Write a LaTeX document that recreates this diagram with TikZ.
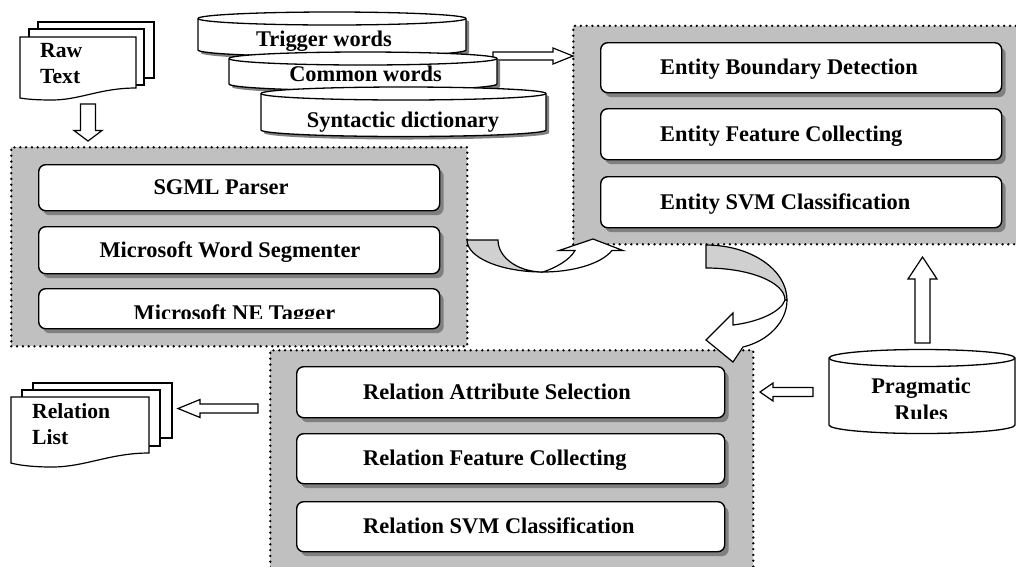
\documentclass[tikz,border=0pt]{standalone}
\usepackage{fontspec}
\setmainfont{Liberation Serif}
\usetikzlibrary{calc,shadows}

\definecolor{panelgray}{RGB}{192,192,192}
\definecolor{shadowgray}{RGB}{128,128,128}
\definecolor{bandgray}{RGB}{208,208,208}

% cylinder outline: [options]{cx}{rx}{top y}{bottom y}{ry}
\newcommand\cylsil[6][]{%
  \path[#1] ({#2-#3},#4) -- ({#2-#3},#5)
    arc[start angle=180,end angle=360,x radius=#3pt,y radius=#6pt]
    -- ({#2+#3},#4)
    arc[start angle=0,end angle=180,x radius=#3pt,y radius=#6pt] -- cycle;}
% front rim of the top face
\newcommand\cyltop[6][]{%
  \path[#1] ({#2-#3},#4)
    arc[start angle=180,end angle=360,x radius=#3pt,y radius=#6pt];}

\begin{document}
\begin{tikzpicture}[x=1pt,y=-1pt,
  lbl/.style={font=\fontsize{22.4}{26}\selectfont\bfseries, inner sep=0pt},
  doclbl/.style={font=\fontsize{21.6}{26}\selectfont\bfseries, inner sep=0pt, anchor=base west},
  panel/.style={anchor=north west, fill=panelgray, draw=black, line width=2.6pt,
    dash pattern=on 0pt off 5.8pt, line cap=round, inner sep=0pt},
  stepbox/.style={anchor=north west, fill=white, draw=black, line width=1.4pt,
    rounded corners=7pt, inner sep=0pt, minimum width=401pt,
    drop shadow={shadow xshift=4pt, shadow yshift=-4.5pt, fill=shadowgray, opacity=1}},
  sheet/.style={fill=white, draw=black, line width=1.2pt, line join=miter},
  cylbody/.style={fill=white, draw=black, line width=1.3pt},
  cylrim/.style={draw=black, line width=1.3pt},
  cylshadow/.style={fill=shadowgray, shift={(3,3)}},
  bandfill/.style={fill=bandgray, draw=black, line width=1.2pt},
  headfill/.style={fill=white, draw=black, line width=1.2pt, line join=miter},
  hollow arrow/.style n args={3}{draw=black, fill=white, line width=1.2pt, line join=miter,
    to path={
      ($(\tikztostart)!#1!90:(\tikztotarget)$)
      -- ($(\tikztotarget)!#3!(\tikztostart)!#1!-90:(\tikztostart)$)
      -- ($(\tikztotarget)!#3!(\tikztostart)!#2!-90:(\tikztostart)$)
      -- (\tikztotarget)
      -- ($(\tikztotarget)!#3!(\tikztostart)!#2!90:(\tikztostart)$)
      -- ($(\tikztotarget)!#3!(\tikztostart)!#1!90:(\tikztostart)$)
      -- ($(\tikztostart)!#1!-90:(\tikztotarget)$)
      -- cycle}}
]
\useasboundingbox (0,0) rectangle (1016,566);
\clip (0,0) rectangle (1016,566);

% ---------- panels ----------
\node[panel, minimum width=456pt, minimum height=199pt] (prep) at (10,146) {};
\node[panel, minimum width=460pt, minimum height=218.5pt] (entity) at (572,24.5) {};
\node[panel, minimum width=483pt, minimum height=232pt] (relation) at (269,349) {};

% ---------- preprocessing steps ----------
\node[stepbox, minimum height=46pt] (sgml) at (38,164) {};
\node[stepbox, minimum height=47pt] (mws) at (38,226) {};
\node[stepbox, minimum height=40pt] (ne) at (38,288) {};
\node[lbl, anchor=base] (sgml-t) at (221,194.5) {SGML Parser};
\node[lbl, anchor=base] (mws-t) at (230,257) {Microsoft Word Segmenter};
\begin{scope}
  \clip (38,288) rectangle (439,318.5);
  \node[lbl, anchor=base] (ne-t) at (234.5,320.5) {Microsoft NE Tagger};
\end{scope}

% ---------- entity steps ----------
\node[stepbox, minimum height=50pt] (ebd) at (600,42) {};
\node[stepbox, minimum height=51pt] (efc) at (600,108) {};
\node[stepbox, minimum height=51pt] (esc) at (600,176) {};
\node[lbl, anchor=base west] (ebd-t) at (660,74.5) {Entity Boundary Detection};
\node[lbl, anchor=base west] (efc-t) at (660,141) {Entity Feature Collecting};
\node[lbl, anchor=base west] (esc-t) at (660,209) {Entity SVM Classification};

% ---------- relation steps ----------
\node[stepbox, minimum width=428pt, minimum height=51pt] (ras) at (296,366) {};
\node[stepbox, minimum width=428pt, minimum height=50pt] (rfc) at (296,433) {};
\node[stepbox, minimum width=428pt, minimum height=50pt] (rsc) at (296,501) {};
\node[lbl, anchor=base west] (ras-t) at (363,399) {Relation Attribute Selection};
\node[lbl, anchor=base west] (rfc-t) at (363,465.5) {Relation Feature Collecting};
\node[lbl, anchor=base west] (rsc-t) at (363,533.5) {Relation SVM Classification};

% ---------- curved arrow: preprocessing -> entity ----------
\path[bandfill] (467,240) -- (498,240) .. controls (498,257.7) and (518.2,272) .. (543,272)
  .. controls (501,272) and (467,257.7) .. (467,240) -- cycle;
\path[headfill] (543,272) .. controls (570,272) and (600,265) .. (612,250.5)
  -- (623,250.5) -- (593,239) -- (559,250.5) -- (575,250.5)
  .. controls (570,260) and (555,268) .. (543,272) -- cycle;

% ---------- curved arrow: entity -> relation ----------
\path[bandfill] (706,245) .. controls (750.7,245) and (787,269.6) .. (787,300)
  -- (785,300) .. controls (785,282.3) and (749.6,268) .. (706,268) -- cycle;
\path[headfill] (787,300) .. controls (787,322) and (768,341) .. (743,347)
  -- (733,362) -- (706,340) -- (733,313) -- (733,325)
  .. controls (758,322) and (781,312) .. (785,300) -- cycle;

% ---------- documents ----------
\path[sheet] (38,22) rectangle (154,78);
\path[sheet] (29,29) rectangle (144,85);
\path[sheet] (20,37) -- (136,37) -- (136,88) .. controls (100,88) and (80,100) .. (52,100)
  .. controls (35,100) and (26,99) .. (20,98) -- cycle;
\node[doclbl] (raw-l1) at (40,57) {Raw};
\node[doclbl] (raw-l2) at (40,83) {Text};

\path[sheet] (33,383) rectangle (172,438);
\path[sheet] (22,390) rectangle (160,446);
\path[sheet] (11,397) -- (149,397) -- (149,453) .. controls (110,453) and (85,467) .. (52,467)
  .. controls (32,467) and (18,465) .. (11,463) -- cycle;
\node[doclbl] (rl-l1) at (32,418.5) {Relation};
\node[doclbl] (rl-l2) at (32,444) {List};

% ---------- dictionaries ----------
\cylsil[cylshadow]{332}{134}{18.5}{50}{6.5}
\cylsil[cylbody]{332}{134}{18.5}{50}{6.5}
\cyltop[cylrim]{332}{134}{18.5}{50}{6.5}
\node[lbl, anchor=base] (trig-t) at (324,46.7) {Trigger words};

\coordinate (lex-out) at (493,56);
\coordinate (ent-in) at (573,56);
\path[hollow arrow={4pt}{8pt}{20pt}] (lex-out) to (ent-in);

\cylsil[cylshadow]{363}{134}{58.5}{84}{6.5}
\cylsil[cylbody]{363}{134}{58.5}{84}{6.5}
\cyltop[cylrim]{363}{134}{58.5}{84}{6.5}
\node[lbl, anchor=base] (comm-t) at (365.5,81.7) {Common words};

\cylsil[cylshadow]{403.5}{142.5}{93.5}{130}{6.5}
\cylsil[cylbody]{403.5}{142.5}{93.5}{130}{6.5}
\cyltop[cylrim]{403.5}{142.5}{93.5}{130}{6.5}
\node[lbl, anchor=base] (synt-t) at (403,127.5) {Syntactic dictionary};

% ---------- pragmatic rules ----------
\cylsil[cylbody]{922}{93}{358}{425}{8.5}
\cyltop[cylrim]{922}{93}{358}{425}{8.5}
\node[lbl, anchor=base] (prag-t1) at (921,393) {Pragmatic};
\begin{scope}
  \clip (829,395) rectangle (1015,418.5);
  \node[lbl, anchor=base] (prag-t2) at (921,420) {Rules};
\end{scope}

% ---------- block arrows ----------
\coordinate (raw-out) at (88,104);
\coordinate (prep-in) at (88,141);
\path[hollow arrow={7.5pt}{14pt}{10.5pt}] (raw-out) to (prep-in);

\coordinate (rel-out) at (258,408.5);
\coordinate (rlist-in) at (178,408.5);
\path[hollow arrow={4.5pt}{9pt}{22pt}] (rel-out) to (rlist-in);

\coordinate (prag-left) at (813,392);
\coordinate (rel-in) at (760,392);
\path[hollow arrow={4.5pt}{9pt}{13pt}] (prag-left) to (rel-in);

\coordinate (prag-top) at (922.5,343);
\coordinate (ent-in2) at (922.5,257);
\path[hollow arrow={7.5pt}{14.5pt}{22pt}] (prag-top) to (ent-in2);

\end{tikzpicture}
\end{document}
